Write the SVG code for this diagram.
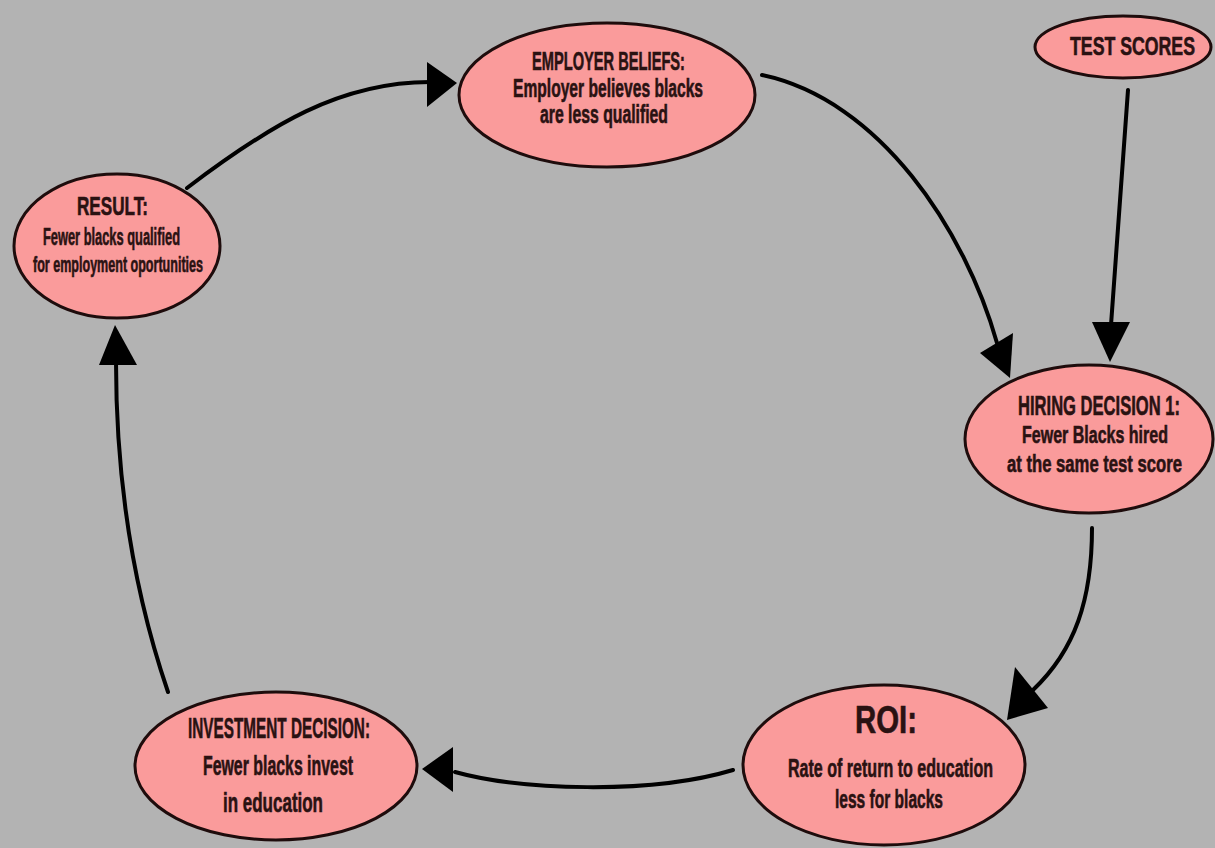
<svg xmlns="http://www.w3.org/2000/svg" width="1215" height="848" viewBox="0 0 1215 848">
<style>
.node{fill:#fa9b9b;stroke:#1e0c0c;stroke-width:3}
.t{font-family:"Liberation Sans Narrow","Liberation Sans",Arial,sans-serif;font-weight:bold;fill:#2a1212;stroke:#2a1212;stroke-width:0.6;text-anchor:middle}
.edge{fill:none;stroke:#000;stroke-width:4;stroke-linecap:round}
.head{fill:#000}
</style>
<rect width="1215" height="848" fill="#b3b3b3"/>
<g id="connectors">
<path class="edge" d="M187,188 C270,125 340,82 430,82"/>
<polygon class="head" points="457,83 427,62 427,107"/>
<path class="edge" d="M762,75 C880,100 965,230 997,343"/>
<polygon class="head" points="1010,378 980,353 1013,333"/>
<path class="edge" d="M1128,90 L1111,325"/>
<polygon class="head" points="1110,362 1092,322 1130,322"/>
<path class="edge" d="M1092,528 C1092,600 1075,650 1033,690"/>
<polygon class="head" points="1007,720 1015,667 1048,708"/>
<path class="edge" d="M733,770 C650,795 520,790 455,772"/>
<polygon class="head" points="422,769 453,747 453,792"/>
<path class="edge" d="M168,692 C140,610 116,500 116,362"/>
<polygon class="head" points="115,325 99,365 137,365"/>
</g>
<g id="employer-beliefs">
<ellipse class="node" cx="607" cy="95" rx="148" ry="72"/>
<text class="t" x="608.5" y="70" font-size="26" textLength="153" lengthAdjust="spacingAndGlyphs">EMPLOYER BELIEFS:</text>
<text class="t" x="608" y="97" font-size="25" textLength="190" lengthAdjust="spacingAndGlyphs">Employer believes blacks</text>
<text class="t" x="604" y="123" font-size="25" textLength="128" lengthAdjust="spacingAndGlyphs">are less qualified</text>
</g>
<g id="result">
<ellipse class="node" cx="117" cy="246" rx="103" ry="72"/>
<text class="t" x="112.5" y="215" font-size="26" textLength="71" lengthAdjust="spacingAndGlyphs">RESULT:</text>
<text class="t" x="111.5" y="245" font-size="23" textLength="137" lengthAdjust="spacingAndGlyphs">Fewer blacks qualified</text>
<text class="t" x="118" y="272" font-size="22" textLength="170" lengthAdjust="spacingAndGlyphs">for employment oportunities</text>
</g>
<g id="hiring-decision">
<ellipse class="node" cx="1089" cy="439" rx="124" ry="74"/>
<text class="t" x="1099" y="415" font-size="27" textLength="162" lengthAdjust="spacingAndGlyphs">HIRING DECISION 1:</text>
<text class="t" x="1095" y="443" font-size="24" textLength="146" lengthAdjust="spacingAndGlyphs">Fewer Blacks hired</text>
<text class="t" x="1094.5" y="472" font-size="24" textLength="175" lengthAdjust="spacingAndGlyphs">at the same test score</text>
</g>
<g id="roi">
<ellipse class="node" cx="884" cy="765" rx="141" ry="80"/>
<text class="t" x="886" y="733" font-size="38" textLength="62" lengthAdjust="spacingAndGlyphs">ROI:</text>
<text class="t" x="890.5" y="777" font-size="26" textLength="205" lengthAdjust="spacingAndGlyphs">Rate of return to education</text>
<text class="t" x="889" y="808" font-size="26" textLength="108" lengthAdjust="spacingAndGlyphs">less for blacks</text>
</g>
<g id="investment-decision">
<ellipse class="node" cx="276" cy="766" rx="141" ry="74"/>
<text class="t" x="279" y="738" font-size="30" textLength="182" lengthAdjust="spacingAndGlyphs">INVESTMENT DECISION:</text>
<text class="t" x="278" y="775" font-size="27" textLength="150" lengthAdjust="spacingAndGlyphs">Fewer blacks invest</text>
<text class="t" x="273" y="812" font-size="27" textLength="100" lengthAdjust="spacingAndGlyphs">in education</text>
</g>
<g id="test-scores">
<ellipse class="node" cx="1123" cy="47" rx="88" ry="31"/>
<text class="t" x="1132.5" y="55" font-size="26" textLength="125" lengthAdjust="spacingAndGlyphs">TEST SCORES</text>
</g>
</svg>
